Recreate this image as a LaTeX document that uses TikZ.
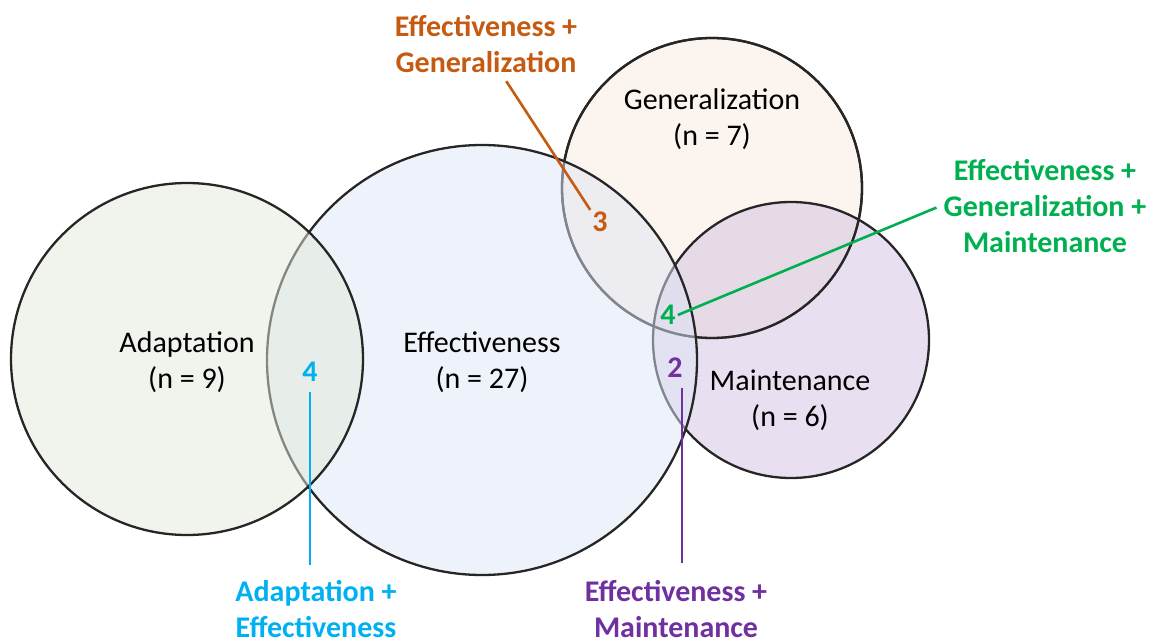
\documentclass[tikz,border=0pt]{standalone}
\usepackage{fontspec}
\setmainfont{Carlito}
\usetikzlibrary{positioning}
\definecolor{adfill}{RGB}{225,233,217}
\definecolor{effill}{RGB}{221,229,245}
\definecolor{gefill}{RGB}{249,233,221}
\definecolor{mafill}{RGB}{209,193,225}
\definecolor{egcol}{RGB}{197,90,17}
\definecolor{egmcol}{RGB}{0,176,80}
\definecolor{aecol}{RGB}{0,176,240}
\definecolor{emcol}{RGB}{112,48,160}
\begin{document}
\begin{tikzpicture}[x=1pt, y=-1pt,
	every node/.style={font=\fontsize{30}{36}\selectfont},
	setcircle/.style={circle, draw=black!85, line width=2.3pt, inner sep=0pt, fill opacity=0.5},
	numtxt/.style={font=\fontsize{30}{36}\selectfont\bfseries, inner sep=2pt},
	combo/.style={align=center, font=\fontsize{30}{36}\selectfont\bfseries},
	link/.style={line width=2.6pt}]
	\useasboundingbox (0,0) rectangle (1166,644);
	\node[setcircle, fill=gefill, minimum size=300pt] (ge) at (712,188) {};
	\node[setcircle, fill=mafill, minimum size=276pt] (ma) at (791,340) {};
	\node[setcircle, fill=none, fill opacity=1, minimum size=300pt] (ge-rim) at (ge.center) {};
	\node[setcircle, fill=effill, minimum size=430pt] (ef) at (482,360) {};
	\node[setcircle, fill=adfill, minimum size=352pt] (ad) at (187,359) {};
	\node[align=center] (ad-txt) at (187,362) {Adaptation\\(n = 9)};
	\node[align=center] (ef-txt) at (482,362) {Effectiveness\\(n = 27)};
	\node[align=center] (ge-txt) at (712,119) {Generalization\\(n = 7)};
	\node[align=center] (ma-txt) at (790,400) {Maintenance\\(n = 6)};
	\node[numtxt, aecol] (num-ae) at (310,372) {4};
	\node[numtxt, egcol] (num-eg) at (600,222) {3};
	\node[numtxt, egmcol] (num-egm) at (668,315) {4};
	\node[numtxt, emcol] (num-em) at (675,368) {2};
	\node[combo, egcol] (lab-eg) at (486,44) {Effectiveness +\\Generalization};
	\node[combo, egmcol] (lab-egm) at (1045,206) {Effectiveness +\\Generalization +\\Maintenance};
	\node[combo, aecol] (lab-ae) at (316,609) {Adaptation +\\Effectiveness};
	\node[combo, emcol] (lab-em) at (676,609) {Effectiveness +\\Maintenance};
	\draw[link, aecol, shorten <=8pt, shorten >=12pt] (num-ae.south) -- (num-ae.south |- lab-ae.north);
	\draw[link, egcol, shorten <=6pt] ([xshift=17pt]lab-eg.south) -- (num-eg.north west);
	\draw[link, egmcol, shorten >=4pt] (num-egm.east) -- (lab-egm.west);
	\draw[link, emcol, shorten <=8pt, shorten >=14pt] ([xshift=7pt]num-em.south) -- ([xshift=7pt]num-em.south |- lab-em.north);
\end{tikzpicture}
\end{document}
